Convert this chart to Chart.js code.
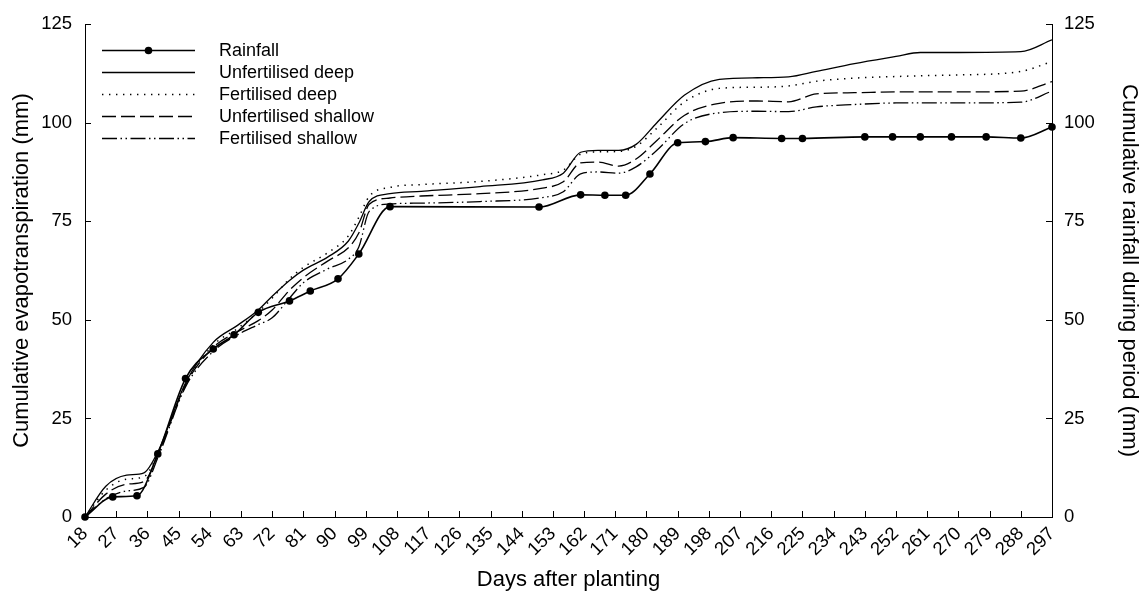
<!DOCTYPE html>
<html>
<head>
<meta charset="utf-8">
<script src="https://cdn.jsdelivr.net/npm/chart.js@4.4.1/dist/chart.umd.min.js"></script>
<style>
  html, body { margin: 0; padding: 0; background: #fff; }
  #wrap { position: relative; width: 1143px; height: 592px; }
</style>
</head>
<body>
<div id="wrap"><canvas id="c" width="1143" height="592"></canvas></div>
<script>
// ---- data ----
const rainDays = [18, 26, 33, 39, 47, 55, 61, 68, 77, 83, 91, 97, 106, 149, 161, 168, 174, 181, 189, 197, 205, 219, 225, 243, 251, 259, 268, 278, 288, 297];
const rainfall = [0, 5.1, 5.4, 16.0, 35.1, 42.6, 46.2, 51.9, 54.8, 57.3, 60.4, 66.7, 78.7, 78.6, 81.7, 81.6, 81.6, 87.0, 94.9, 95.2, 96.2, 96.0, 96.0, 96.4, 96.4, 96.4, 96.4, 96.4, 96.1, 98.9];

const etDays = [18, 24, 30, 35, 39, 47, 55, 62, 68, 72, 77, 81, 88, 94, 97, 100, 106, 115, 132, 150, 156, 161, 166, 172, 177, 183, 191, 201, 212, 221, 229, 240, 252, 259, 270, 288, 297];
const unfertDeep = [0, 7.8, 10.6, 11.2, 16.5, 34.0, 44.3, 48.6, 52.5, 56.0, 60.0, 62.6, 65.9, 70.0, 74.5, 80.0, 82.0, 82.6, 83.8, 85.5, 87.2, 92.5, 93.0, 93.0, 94.5, 100.0, 107.0, 111.0, 111.4, 111.6, 113.0, 115.0, 116.8, 117.8, 117.8, 118.0, 121.0];
const fertDeep = [0, 6.8, 9.6, 10.2, 16.0, 33.6, 43.6, 47.8, 52.0, 55.5, 60.4, 63.3, 67.0, 71.3, 76.0, 81.3, 83.6, 84.3, 85.1, 86.8, 88.0, 92.0, 92.6, 92.7, 94.0, 98.6, 105.3, 108.7, 109.0, 109.3, 110.5, 111.3, 111.7, 111.9, 112.1, 113.0, 115.5];
const unfertShallow = [0, 5.8, 8.3, 9.0, 15.6, 33.5, 43.0, 47.0, 49.8, 52.5, 57.5, 60.7, 64.9, 68.3, 72.0, 79.3, 80.9, 81.4, 82.0, 83.4, 85.0, 89.8, 90.0, 89.0, 90.8, 95.5, 101.9, 104.9, 105.5, 105.3, 107.3, 107.6, 107.8, 107.8, 107.8, 108.0, 110.4];
const fertShallow = [0, 4.6, 6.6, 7.5, 15.0, 33.0, 42.0, 46.2, 48.8, 50.5, 55.5, 59.4, 62.9, 65.4, 68.5, 77.5, 79.4, 79.6, 80.0, 81.0, 82.5, 87.0, 87.5, 87.2, 88.8, 93.0, 99.8, 102.5, 102.9, 102.8, 104.0, 104.6, 105.0, 105.0, 105.0, 105.2, 108.0];

const xTickValues = [18, 27, 36, 45, 54, 63, 72, 81, 90, 99, 108, 117, 126, 135, 144, 153, 162, 171, 180, 189, 198, 207, 216, 225, 234, 243, 252, 261, 270, 279, 288, 297];
const yTickValues = [0, 25, 50, 75, 100, 125];

const seriesNames = ['Rainfall', 'Unfertilised deep', 'Fertilised deep', 'Unfertilised shallow', 'Fertilised shallow'];
const xTitle = 'Days after planting';
const yLeftTitle = 'Cumulative evapotranspiration (mm)';
const yRightTitle = 'Cumulative rainfall during period (mm)';

// ---- build ----
const FONT = '"Liberation Sans", Arial, sans-serif';
const pts = (xs, ys) => xs.map((x, i) => ({ x: x, y: ys[i] }));

const dashes = {
  solid: [],
  dotted: [1.4, 5.6],
  dashed: [14, 5],
  dashdotdot: [15, 3.5, 1.5, 3.5, 1.5, 3.5]
};

const datasets = [
  { label: seriesNames[0], data: pts(rainDays, rainfall), yAxisID: 'yR',
    borderColor: '#000', backgroundColor: '#000', borderWidth: 1.6,
    pointRadius: 3.8, pointHoverRadius: 3.8, pointBackgroundColor: '#000', pointBorderWidth: 0,
    cubicInterpolationMode: 'monotone', borderDash: dashes.solid, clip: false, order: 0 },
  { label: seriesNames[1], data: pts(etDays, unfertDeep), yAxisID: 'y',
    borderColor: '#000', borderWidth: 1.3, pointRadius: 0, cubicInterpolationMode: 'monotone',
    borderDash: dashes.solid, order: 1 },
  { label: seriesNames[2], data: pts(etDays, fertDeep), yAxisID: 'y',
    borderColor: '#000', borderWidth: 1.5, pointRadius: 0, cubicInterpolationMode: 'monotone',
    borderDash: dashes.dotted, order: 2 },
  { label: seriesNames[3], data: pts(etDays, unfertShallow), yAxisID: 'y',
    borderColor: '#000', borderWidth: 1.3, pointRadius: 0, cubicInterpolationMode: 'monotone',
    borderDash: dashes.dashed, order: 3 },
  { label: seriesNames[4], data: pts(etDays, fertShallow), yAxisID: 'y',
    borderColor: '#000', borderWidth: 1.3, pointRadius: 0, cubicInterpolationMode: 'monotone',
    borderDash: dashes.dashdotdot, order: 4 }
];

// inward tick marks
const innerTicks = {
  id: 'innerTicks',
  afterDraw(chart) {
    const { ctx, chartArea: a, scales } = chart;
    const L = 6;
    ctx.save();
    ctx.strokeStyle = '#000';
    ctx.lineWidth = 1;
    ctx.beginPath();
    scales.x.ticks.forEach(t => {
      const px = Math.round(scales.x.getPixelForValue(t.value)) + 0.5;
      ctx.moveTo(px, a.bottom); ctx.lineTo(px, a.bottom - L);
    });
    scales.y.ticks.forEach(t => {
      const py = Math.round(scales.y.getPixelForValue(t.value)) + 0.5;
      ctx.moveTo(a.left, py); ctx.lineTo(a.left + L, py);
    });
    scales.yR.ticks.forEach(t => {
      const py = Math.round(scales.yR.getPixelForValue(t.value)) + 0.5;
      ctx.moveTo(a.right, py); ctx.lineTo(a.right - L, py);
    });
    ctx.stroke();
    ctx.restore();
  }
};

// legend inside the plot, top-left
const insideLegend = {
  id: 'insideLegend',
  afterDraw(chart) {
    const { ctx } = chart;
    const x0 = 102, x1 = 195, tx = 219, y0 = 49.5, dy = 22.2;
    ctx.save();
    ctx.font = '18px ' + FONT;
    ctx.textBaseline = 'middle';
    ctx.textAlign = 'left';
    chart.data.datasets.forEach((ds, i) => {
      const y = Math.round(y0 + i * dy) + 0.5;
      ctx.strokeStyle = ds.borderColor;
      ctx.lineWidth = ds.borderWidth;
      ctx.setLineDash(ds.borderDash || []);
      ctx.beginPath(); ctx.moveTo(x0, y); ctx.lineTo(x1, y); ctx.stroke();
      ctx.setLineDash([]);
      if (ds.pointRadius > 0) {
        ctx.fillStyle = ds.pointBackgroundColor;
        ctx.beginPath(); ctx.arc((x0 + x1) / 2, y, ds.pointRadius, 0, Math.PI * 2); ctx.fill();
      }
      ctx.fillStyle = '#000';
      ctx.fillText(ds.label, tx, y + 1);
    });
    ctx.restore();
  }
};

const tickFont = { family: FONT, size: 18.5 };
const titleFont = { family: FONT, size: 22, lineHeight: 1.0 };

new Chart(document.getElementById('c'), {
  type: 'line',
  data: { datasets },
  plugins: [innerTicks, insideLegend],
  options: {
    responsive: false,
    animation: false,
    events: [],
    layout: { padding: { top: 22, left: 0, right: 0, bottom: 0 } },
    plugins: { legend: { display: false }, tooltip: { enabled: false } },
    scales: {
      x: {
        type: 'linear', position: 'bottom', min: 18, max: 297,
        afterBuildTicks: s => { s.ticks = xTickValues.map(v => ({ value: v })); },
        afterFit: s => { s.height = 75; },
        grid: { display: false, drawTicks: false },
        border: { display: true, color: '#000', width: 1 },
        ticks: { color: '#000', font: tickFont, minRotation: 45, maxRotation: 45, padding: 6, autoSkip: false },
        title: { display: true, text: xTitle, color: '#000', font: titleFont, padding: { top: 0, bottom: 1 } }
      },
      y: {
        type: 'linear', position: 'left', min: 0, max: 125,
        afterBuildTicks: s => { s.ticks = yTickValues.map(v => ({ value: v })); },
        afterFit: s => { s.width = 85; },
        grid: { display: false, drawTicks: false },
        border: { display: true, color: '#000', width: 1 },
        ticks: { color: '#000', font: tickFont, padding: 13 },
        title: { display: true, text: yLeftTitle, color: '#000', font: titleFont, padding: { top: 11, bottom: 0 } }
      },
      yR: {
        type: 'linear', position: 'right', min: 0, max: 125,
        afterBuildTicks: s => { s.ticks = yTickValues.map(v => ({ value: v })); },
        afterFit: s => { s.width = 91; },
        grid: { display: false, drawTicks: false },
        border: { display: true, color: '#000', width: 1 },
        ticks: { color: '#000', font: tickFont, padding: 12 },
        title: { display: true, text: yRightTitle, color: '#000', font: titleFont, padding: { top: 3, bottom: 0 } }
      }
    }
  }
});
</script>
</body>
</html>
